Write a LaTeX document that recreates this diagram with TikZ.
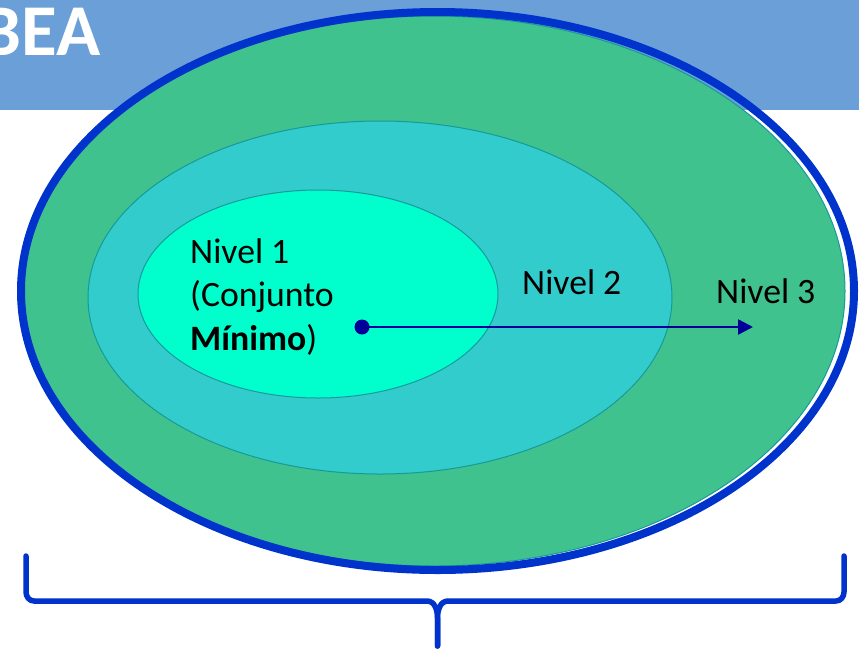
\documentclass[tikz,border=0pt]{standalone}
\usepackage{fontspec}
\setmainfont{Carlito}
\usetikzlibrary{shapes.geometric,arrows.meta}
\definecolor{hdr}{HTML}{6A9FD8}
\definecolor{lvthree}{HTML}{40C28F}
\definecolor{lvtwo}{HTML}{33CCCC}
\definecolor{lvone}{HTML}{00FFCC}
\definecolor{rim}{HTML}{169A9A}
\definecolor{bord}{HTML}{0033CC}
\definecolor{arrowc}{HTML}{000099}
\tikzset{
  ring/.style={ellipse, inner sep=0pt, draw=rim, line width=1pt},
  lbl/.style={inner sep=0pt, anchor=base west, font=\fontsize{35.7}{43.5}\selectfont, text=black},
  bracel/.style={draw=bord, line width=5.5pt, line cap=round, line join=round}
}
\begin{document}
\begin{tikzpicture}[x=1pt,y=-1pt]
\useasboundingbox (0,0) rectangle (859,649);
\fill[white] (0,0) rectangle (859,649);
% header
\fill[hdr] (0,0) rectangle (859,110);
\node[inner sep=0pt, anchor=base east, text=white, font=\fontsize{73}{80}\selectfont\bfseries] (title) at (101,55) {BEA};
% level 3
\node[ring, fill=lvthree, minimum width=824pt, minimum height=550pt] (l3) at (433,291) {};
\node[ellipse, inner sep=0pt, draw=bord, line width=8pt, minimum width=833pt, minimum height=558pt] (outer) at (437.5,291) {};
% level 2
\node[ring, fill=lvtwo, minimum width=584pt, minimum height=353pt] (l2) at (380,297.5) {};
% level 1
\node[ring, fill=lvone, minimum width=360pt, minimum height=208pt] (l1) at (318,294) {};
% labels
\node[lbl] (t1) at (190,263) {\renewcommand\arraystretch{1}\begin{tabular}[t]{@{}l@{}}Nivel 1\\(Conjunto\\\textbf{Mínimo})\end{tabular}};
\node[lbl] (t2) at (522,294) {Nivel 2};
\node[lbl] (t3) at (716,303) {Nivel 3};
% arrow
\node[circle, fill=arrowc, inner sep=0pt, minimum size=15pt] (dot) at (362,327) {};
\coordinate (tip) at (753,327);
\draw[arrowc, line width=2.5pt, -{Triangle[length=15pt,width=15pt]}] (dot.center) -- (tip);
% brace
\coordinate (bl) at (26,556);
\coordinate (br) at (844,556);
\coordinate (bm) at (437.5,646);
\draw[bracel] (bl) -- (26,592) to[out=-90,in=180] (34,601) -- (427,601) to[out=0,in=90] (437.5,618) -- (bm);
\draw[bracel] (bm) -- (437.5,618) to[out=90,in=180] (448,601) -- (836,601) to[out=0,in=-90] (844,592) -- (br);
\end{tikzpicture}
\end{document}
